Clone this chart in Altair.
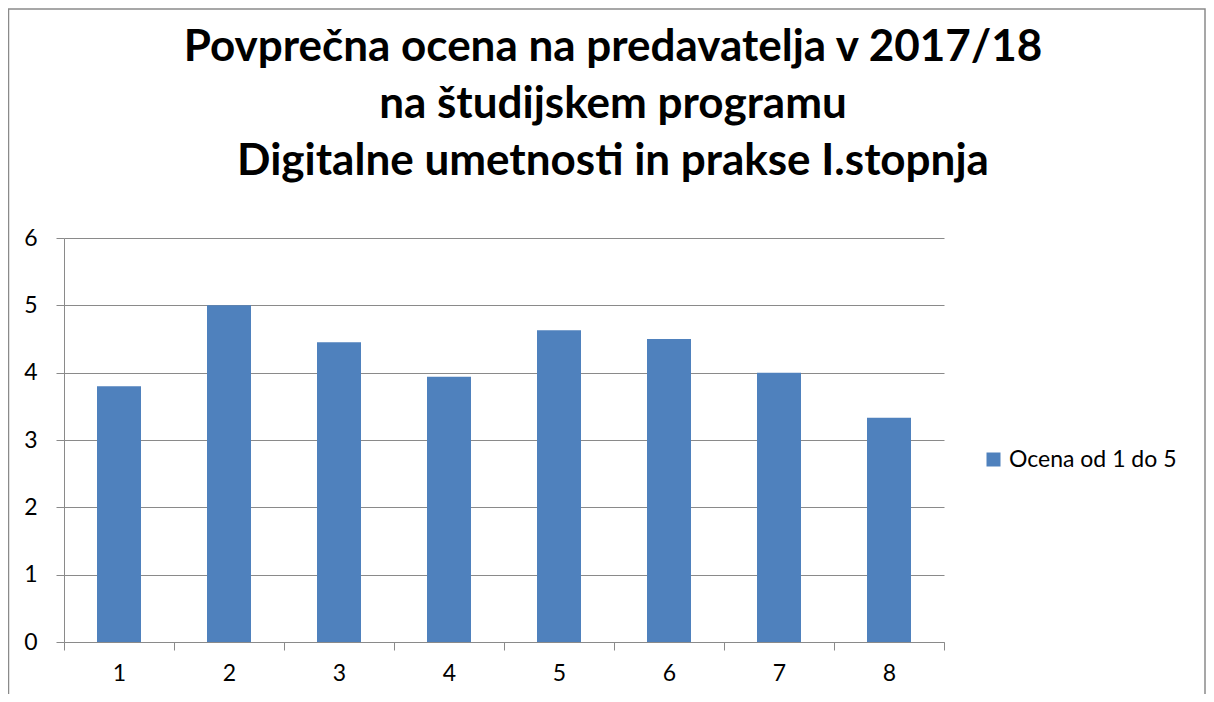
import altair as alt
import pandas as pd

categories = ["1", "2", "3", "4", "5", "6", "7", "8"]
values = [3.8, 5.0, 4.45, 3.94, 4.63, 4.5, 4.0, 3.33]
series_name = "Ocena od 1 do 5"
title_lines = [
    "Povprečna ocena na predavatelja v 2017/18",
    "na študijskem programu",
    "Digitalne umetnosti in prakse I.stopnja",
]
y_ticks = [0, 1, 2, 3, 4, 5, 6]

df = pd.DataFrame({"kat": categories, "ocena": values, "serija": [series_name] * len(categories)})

FONT = "Lato"
GRAY = "#8a8a8a"
LABEL_SIZE = 23

bars = alt.Chart(df).mark_bar(width=alt.RelativeBandSize(0.4)).encode(
    x=alt.X("kat:N", sort=categories, title=None,
            scale=alt.Scale(paddingInner=0, paddingOuter=0),
            axis=alt.Axis(labelAngle=0, tickBand="extent", tickSize=8, tickColor=GRAY,
                          domainColor=GRAY, labelFontSize=LABEL_SIZE, labelFont=FONT,
                          labelColor="#000000", labelPadding=12, grid=False)),
    y=alt.Y("ocena:Q", title=None,
            scale=alt.Scale(domain=[0, 6], nice=False),
            axis=alt.Axis(values=y_ticks, labelOverlap=False, tickSize=8, tickColor=GRAY,
                          domainColor=GRAY, gridColor=GRAY, gridOpacity=1,
                          labelFontSize=LABEL_SIZE, labelFont=FONT, labelColor="#000000",
                          labelPadding=19)),
    color=alt.Color("serija:N", scale=alt.Scale(range=["#4F81BD"]),
                    legend=alt.Legend(title=None, orient="none", legendX=918, legendY=210,
                                      symbolType="square", symbolSize=196, symbolStrokeWidth=0,
                                      labelFontSize=LABEL_SIZE, labelFont=FONT, labelColor="#000000",
                                      labelOffset=4, labelLimit=400)),
)

border = alt.Chart(pd.DataFrame({"a": [0]})).mark_rect(
    fill=None, stroke=GRAY, strokeWidth=1.5, clip=False
).encode(
    x=alt.value(-55.5), x2=alt.value(1141), y=alt.value(-229), y2=alt.value(600)
)

title = alt.Chart(pd.DataFrame({"t": ["\n".join(title_lines)]})).mark_text(
    font=FONT, fontSize=44, fontWeight="bold", color="#000000",
    align="center", baseline="middle", lineBreak="\n", lineHeight=57
).encode(text="t:N", x=alt.value(549), y=alt.value(-190))

chart = alt.layer(border, bars, title).properties(
    width=880,
    height=404,
    autosize=alt.AutoSizeParams(type="none"),
    padding={"left": 56, "top": 230, "right": 262, "bottom": 52},
).configure_view(stroke=None).configure_axis(domainWidth=1, tickWidth=1, gridWidth=1)

chart.save("out.html", embed_options={"renderer": "svg", "actions": False})
